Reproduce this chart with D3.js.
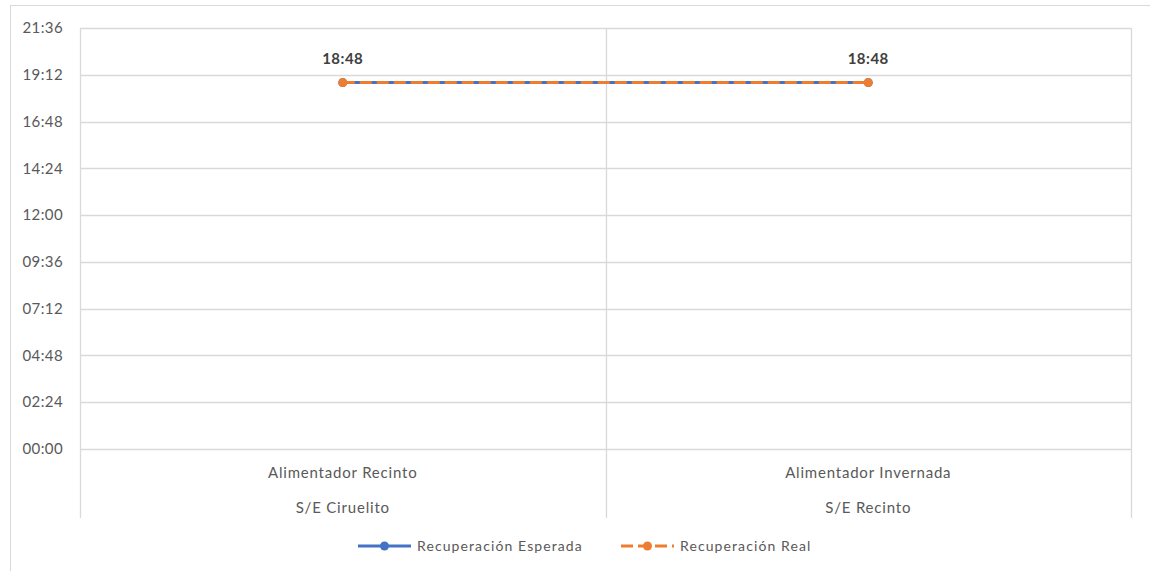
<!DOCTYPE html>
<html>
<head>
<meta charset="utf-8">
<script src="https://cdn.jsdelivr.net/npm/d3@7"></script>
<style>
  body { margin: 0; background: #fff; }
  text { font-family: Lato, "Open Sans", sans-serif; }
</style>
</head>
<body>
<div id="chart"></div>
<script>
// Chart data
const categories = [
    ["Alimentador Recinto", "S/E Ciruelito"],
    ["Alimentador Invernada", "S/E Recinto"]
];
const expected = ["18:48", "18:48"];   // Recuperación Esperada
const actual = ["18:48", "18:48"];     // Recuperación Real
const yTicks = ["00:00", "02:24", "04:48", "07:12", "09:36", "12:00", "14:24", "16:48", "19:12", "21:36"];
const seriesNames = ["Recuperación Esperada", "Recuperación Real"];

const toMin = s => { const [h, m] = s.split(":").map(Number); return h * 60 + m; };

const W = 1150, H = 571;
const margin = { top: 28, right: 19, bottom: 122, left: 80 };
const width = W - margin.left - margin.right;
const height = H - margin.top - margin.bottom;

const svg = d3.select("#chart").append("svg")
    .attr("width", W)
    .attr("height", H);

// outer chart border
svg.append("rect")
    .attr("x", 10.5).attr("y", 5.5)
    .attr("width", 1200).attr("height", 600)
    .attr("fill", "none")
    .attr("stroke", "#d9d9d9");

const g = svg.append("g")
    .attr("transform", `translate(${margin.left},${margin.top})`);

const x = d3.scaleBand()
    .domain(d3.range(categories.length))
    .range([0, width]);

const y = d3.scaleLinear()
    .domain([0, toMin(yTicks[yTicks.length - 1])])
    .range([height, 0]);

// horizontal grid
g.selectAll(".hgrid")
    .data(yTicks)
    .enter().append("line")
    .attr("x1", 0).attr("x2", width)
    .attr("y1", d => Math.round(y(toMin(d))) + 0.5)
    .attr("y2", d => Math.round(y(toMin(d))) + 0.5)
    .attr("stroke", "#d9d9d9")
    .attr("stroke-width", 1.3);

// vertical category dividers (extend through the label area)
const dividers = d3.range(categories.length + 1).map(i => i === categories.length ? width : x(i));
g.selectAll(".vgrid")
    .data(dividers)
    .enter().append("line")
    .attr("x1", d => Math.round(d) + 0.5).attr("x2", d => Math.round(d) + 0.5)
    .attr("y1", 0).attr("y2", height + 69)
    .attr("stroke", "#d9d9d9")
    .attr("stroke-width", 1.3);

// y axis labels
g.selectAll(".ylab")
    .data(yTicks)
    .enter().append("text")
    .attr("x", -17)
    .attr("y", d => y(toMin(d)))
    .attr("dy", "0.35em")
    .attr("text-anchor", "end")
    .style("font-size", "15px")
    .style("letter-spacing", "0.4px")
    .style("fill", "#595959")
    .text(d => d);

// category labels (two levels)
categories.forEach((c, i) => {
    c.forEach((t, j) => {
        g.append("text")
            .attr("x", x(i) + x.bandwidth() / 2)
            .attr("y", height + 24 + j * 35)
            .attr("dy", "0.35em")
            .attr("text-anchor", "middle")
            .style("font-size", "15px")
            .style("letter-spacing", "0.8px")
            .style("fill", "#595959")
            .text(t);
    });
});

const cx = i => x(i) + x.bandwidth() / 2;
const line = d3.line()
    .x((d, i) => cx(i))
    .y(d => y(toMin(d)));

// expected series (solid blue)
g.append("path")
    .datum(expected)
    .attr("fill", "none")
    .attr("stroke", "#4472C4")
    .attr("stroke-width", 3)
    .attr("d", line);

g.selectAll(".pt-exp")
    .data(expected)
    .enter().append("circle")
    .attr("cx", (d, i) => cx(i))
    .attr("cy", d => y(toMin(d)))
    .attr("r", 4.5)
    .attr("fill", "#4472C4");

// actual series (dashed orange)
g.append("path")
    .datum(actual)
    .attr("fill", "none")
    .attr("stroke", "#ED7D31")
    .attr("stroke-width", 3)
    .attr("stroke-dasharray", "12,5")
    .attr("d", line);

g.selectAll(".pt-act")
    .data(actual)
    .enter().append("circle")
    .attr("cx", (d, i) => cx(i))
    .attr("cy", d => y(toMin(d)))
    .attr("r", 4.5)
    .attr("fill", "#ED7D31");

// data labels
g.selectAll(".dlab")
    .data(actual)
    .enter().append("text")
    .attr("x", (d, i) => cx(i))
    .attr("y", d => y(toMin(d)) - 24)
    .attr("dy", "0.35em")
    .attr("text-anchor", "middle")
    .style("font-size", "15px")
    .style("letter-spacing", "0.5px")
    .style("font-weight", "bold")
    .style("fill", "#404040")
    .text(d => d);

// legend
const legend = svg.append("g").attr("transform", "translate(358,546)");

legend.append("line")
    .attr("x1", 0).attr("x2", 53)
    .attr("stroke", "#4472C4").attr("stroke-width", 3);
legend.append("circle")
    .attr("cx", 26.5).attr("r", 4.5).attr("fill", "#4472C4");
legend.append("text")
    .attr("x", 59).attr("dy", "0.35em")
    .style("font-size", "14px").style("letter-spacing", "1.1px").style("fill", "#595959")
    .text(seriesNames[0]);

const l2 = legend.append("g").attr("transform", "translate(263,0)");
l2.append("line")
    .attr("x1", 0).attr("x2", 53)
    .attr("stroke", "#ED7D31").attr("stroke-width", 3)
    .attr("stroke-dasharray", "12,5");
l2.append("circle")
    .attr("cx", 26.5).attr("r", 4.5).attr("fill", "#ED7D31");
l2.append("text")
    .attr("x", 59).attr("dy", "0.35em")
    .style("font-size", "14px").style("letter-spacing", "1.1px").style("fill", "#595959")
    .text(seriesNames[1]);
</script>
</body>
</html>
